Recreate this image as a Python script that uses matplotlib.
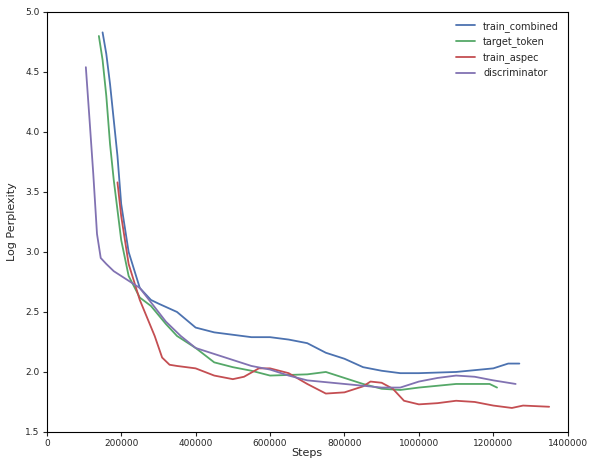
import matplotlib
matplotlib.use("Agg")
import matplotlib.pyplot as plt
import seaborn as sns

sns.set_style("white")
plt.rcParams['font.family'] = ['DejaVu Sans']

comb_x = [150e3, 160e3, 170e3, 180e3, 190e3, 200e3, 220e3, 250e3, 280e3, 300e3, 350e3, 400e3, 450e3,
          500e3, 550e3, 600e3, 650e3, 700e3, 750e3, 800e3, 850e3, 900e3, 950e3, 1000e3, 1100e3,
          1200e3, 1240e3, 1270e3]
comb_y = [4.83, 4.65, 4.4, 4.1, 3.8, 3.4, 3.0, 2.7, 2.6, 2.57, 2.5, 2.37, 2.33,
          2.31, 2.29, 2.29, 2.27, 2.24, 2.16, 2.11, 2.04, 2.01, 1.99, 1.99, 2.0,
          2.03, 2.07, 2.07]

tok_x = [140e3, 150e3, 160e3, 170e3, 180e3, 200e3, 220e3, 250e3, 280e3, 320e3, 350e3, 400e3, 450e3,
         500e3, 550e3, 600e3, 700e3, 750e3, 800e3, 850e3, 900e3, 950e3, 1000e3, 1100e3, 1190e3, 1210e3]
tok_y = [4.8, 4.6, 4.3, 3.9, 3.6, 3.1, 2.8, 2.62, 2.55, 2.4, 2.3, 2.2, 2.08,
         2.04, 2.01, 1.97, 1.98, 2.0, 1.95, 1.9, 1.86, 1.85, 1.87, 1.9, 1.9, 1.87]

asp_x = [190e3, 200e3, 220e3, 250e3, 270e3, 290e3, 310e3, 330e3, 350e3, 400e3, 450e3, 500e3, 530e3,
         570e3, 600e3, 650e3, 700e3, 750e3, 800e3, 850e3, 870e3, 900e3, 930e3, 960e3, 1000e3,
         1050e3, 1100e3, 1150e3, 1200e3, 1250e3, 1280e3, 1350e3]
asp_y = [3.58, 3.3, 2.9, 2.6, 2.45, 2.3, 2.12, 2.06, 2.05, 2.03, 1.97, 1.94, 1.96,
         2.03, 2.03, 1.99, 1.9, 1.82, 1.83, 1.88, 1.92, 1.91, 1.86, 1.76, 1.73,
         1.74, 1.76, 1.75, 1.72, 1.7, 1.72, 1.71]

dis_x = [105e3, 115e3, 125e3, 135e3, 145e3, 160e3, 180e3, 200e3, 250e3, 280e3, 320e3, 360e3, 400e3,
         450e3, 500e3, 550e3, 600e3, 650e3, 700e3, 800e3, 900e3, 950e3, 1000e3, 1050e3, 1100e3,
         1150e3, 1200e3, 1260e3]
dis_y = [4.54, 4.1, 3.65, 3.15, 2.95, 2.9, 2.84, 2.8, 2.7, 2.58, 2.42, 2.3, 2.2,
         2.15, 2.1, 2.05, 2.02, 1.97, 1.93, 1.9, 1.87, 1.87, 1.92, 1.95, 1.97,
         1.96, 1.93, 1.9]

fig = plt.figure(figsize=(5.92, 4.61), dpi=100)
ax = fig.add_axes([0.079, 0.063, 0.88, 0.911])
ax.plot(comb_x, comb_y, color="#4C72B0", label="train_combined", lw=1.3)
ax.plot(tok_x, tok_y, color="#55A868", label="target_token", lw=1.3)
ax.plot(asp_x, asp_y, color="#C44E52", label="train_aspec", lw=1.3)
ax.plot(dis_x, dis_y, color="#8172B2", label="discriminator", lw=1.3)
ax.set_xlim(0, 1400000)
ax.set_ylim(1.5, 5.0)
ax.ticklabel_format(style="plain", useOffset=False)
ax.set_xlabel("Steps", fontsize=8, labelpad=0)
ax.set_ylabel("Log Perplexity", fontsize=8, labelpad=6)
ax.tick_params(labelsize=6.5, length=3, direction="out", bottom=True, left=True, pad=2)
for s in ax.spines.values():
    s.set_color("black")
    s.set_linewidth(0.8)
ax.legend(frameon=False, fontsize=7, loc="upper right")
fig.savefig("out.png", dpi=100)
